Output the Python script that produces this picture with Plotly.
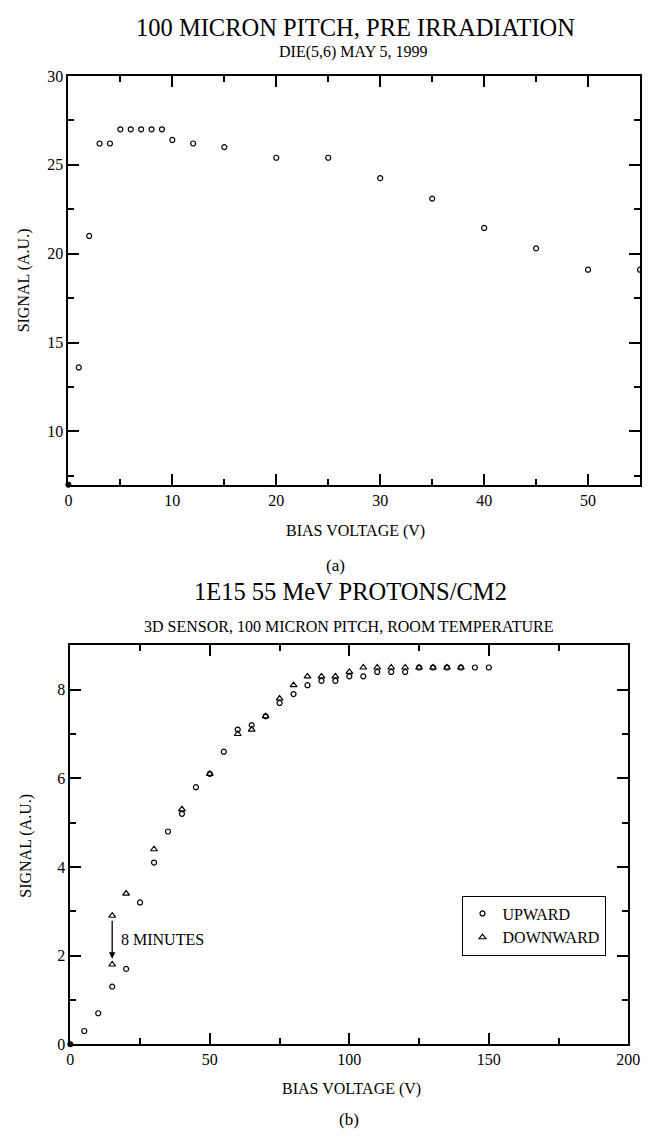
import plotly.graph_objects as go

W, H = 654, 1138
FONT = "Liberation Serif"

# ---- Panel (a) data ----
a_bias = [1, 2, 3, 4, 5, 6, 7, 8, 9, 10, 12, 15, 20, 25, 30, 35, 40, 45, 50, 55]
a_signal = [13.6, 21.0, 26.2, 26.2, 27.0, 27.0, 27.0, 27.0, 27.0, 26.4, 26.2, 26.0,
            25.4, 25.4, 24.25, 23.1, 21.45, 20.3, 19.1, 19.1]
a_origin_x = [0]
a_origin_y = [7]

# ---- Panel (b) data ----
up_bias = [5, 10, 15, 20, 25, 30, 35, 40, 45, 50, 55, 60, 65, 70, 75, 80, 85, 90,
           95, 100, 105, 110, 115, 120, 125, 130, 135, 140, 145, 150]
up_signal = [0.3, 0.7, 1.3, 1.7, 3.2, 4.1, 4.8, 5.2, 5.8, 6.1, 6.6, 7.1, 7.2, 7.4,
             7.7, 7.9, 8.1, 8.2, 8.2, 8.3, 8.3, 8.4, 8.4, 8.4, 8.5, 8.5, 8.5, 8.5,
             8.5, 8.5]
down_bias = [15, 15, 20, 30, 40, 50, 60, 65, 70, 75, 80, 85, 90, 95, 100, 105, 110,
             115, 120, 125, 130, 135, 140]
down_signal = [2.9, 1.8, 3.4, 4.4, 5.3, 6.1, 7.0, 7.1, 7.4, 7.8, 8.1, 8.3, 8.3, 8.3,
               8.4, 8.5, 8.5, 8.5, 8.5, 8.5, 8.5, 8.5, 8.5]
b_origin_x = [0]
b_origin_y = [0]

arrow_x = 15
arrow_from = 2.82
arrow_to = 1.93

def px_x(p):
    return p / W

def px_y(p):
    return 1 - p / H

fig = go.Figure()

mk = dict(color="black", size=5, line=dict(color="black", width=1.2))

fig.add_trace(go.Scatter(x=a_bias, y=a_signal, mode="markers", xaxis="x", yaxis="y",
                         marker=dict(symbol="circle-open", **mk), showlegend=False))
fig.add_trace(go.Scatter(x=a_origin_x, y=a_origin_y, mode="markers", xaxis="x", yaxis="y",
                         marker=dict(symbol="circle", color="black", size=6),
                         cliponaxis=False, showlegend=False))

fig.add_trace(go.Scatter(x=up_bias, y=up_signal, mode="markers", xaxis="x2", yaxis="y2",
                         name="UPWARD", marker=dict(symbol="circle-open", **mk)))
fig.add_trace(go.Scatter(x=down_bias, y=down_signal, mode="markers", xaxis="x2", yaxis="y2",
                         name="DOWNWARD",
                         marker=dict(symbol="triangle-up-open", color="black", size=6,
                                     line=dict(color="black", width=1.2))))
fig.add_trace(go.Scatter(x=b_origin_x, y=b_origin_y, mode="markers", xaxis="x2", yaxis="y2",
                         marker=dict(symbol="circle", color="black", size=6),
                         cliponaxis=False, showlegend=False))

axis_common = dict(showline=True, linecolor="black", linewidth=2, mirror="allticks",
                   ticks="inside", ticklen=11, tickwidth=1.5, tickcolor="black",
                   showgrid=False, zeroline=False,
                   tickfont=dict(family=FONT, size=16, color="black"))

fig.update_layout(
    width=W, height=H,
    margin=dict(l=0, r=0, t=0, b=0),
    paper_bgcolor="white", plot_bgcolor="white",
    font=dict(family=FONT, size=16, color="black"),
    xaxis=dict(domain=[px_x(66), px_x(652)], range=[0, 55], tick0=0, dtick=10,
               anchor="y",
               minor=dict(ticks="inside", dtick=5, tick0=0, ticklen=6, tickcolor="black",
                          tickwidth=1.5),
               **axis_common),
    yaxis=dict(domain=[px_y(484), px_y(69)], range=[7, 30], tick0=0, dtick=5,
               anchor="x",
               minor=dict(ticks="inside", dtick=2.5, tick0=0, ticklen=6, tickcolor="black",
                          tickwidth=1.5),
               **axis_common),
    xaxis2=dict(domain=[px_x(68), px_x(640)], range=[0, 200], tick0=0, dtick=50,
                anchor="y2",
                minor=dict(ticks="inside", dtick=25, tick0=0, ticklen=6, tickcolor="black",
                           tickwidth=1.5),
                **axis_common),
    yaxis2=dict(domain=[px_y(1052), px_y(647)], range=[0, 9], tick0=0, dtick=2,
                anchor="x2",
                minor=dict(ticks="inside", dtick=1, tick0=0, ticklen=6, tickcolor="black",
                           tickwidth=1.5),
                **axis_common),
    legend=dict(x=px_x(469), y=px_y(901), xanchor="left", yanchor="top",
                bordercolor="black", borderwidth=1, bgcolor="white",
                font=dict(family=FONT, size=16, color="black"),
                tracegroupgap=0, itemwidth=30),
)

def txt(text, x, y, size=16, **kw):
    fig.add_annotation(text=text, x=x, y=y, xref="paper", yref="paper",
                       showarrow=False, font=dict(family=FONT, size=size, color="black"),
                       xanchor="center", yanchor="middle", **kw)

txt("100 MICRON PITCH, PRE IRRADIATION", px_x(360), px_y(20), size=24.5)
txt("DIE(5,6) MAY 5, 1999", px_x(358), px_y(45), size=16)
txt("SIGNAL (A.U.)", px_x(20), px_y(277), size=16, textangle=-90)
txt("BIAS VOLTAGE (V)", px_x(360), px_y(531), size=16)
txt("(a)", px_x(340), px_y(566), size=17)

txt("1E15 55 MeV PROTONS/CM2", px_x(355), px_y(592), size=24.5)
txt("3D SENSOR, 100 MICRON PITCH, ROOM TEMPERATURE", px_x(354), px_y(628), size=16)
txt("SIGNAL (A.U.)", px_x(23), px_y(850), size=16, textangle=-90)
txt("BIAS VOLTAGE (V)", px_x(356), px_y(1097), size=16)
txt("(b)", px_x(354), px_y(1128), size=17)

fig.add_annotation(x=arrow_x, y=arrow_to, ax=arrow_x, ay=arrow_from,
                   xref="x2", yref="y2", axref="x2", ayref="y2",
                   showarrow=True, arrowhead=2, arrowsize=1, arrowwidth=1.3,
                   arrowcolor="black", text="")
fig.add_annotation(x=17.5, y=(arrow_from + arrow_to) / 2, xref="x2", yref="y2",
                   text="8 MINUTES", showarrow=False, xanchor="left", yanchor="middle",
                   font=dict(family=FONT, size=16, color="black"))

fig.write_html("out.html")
